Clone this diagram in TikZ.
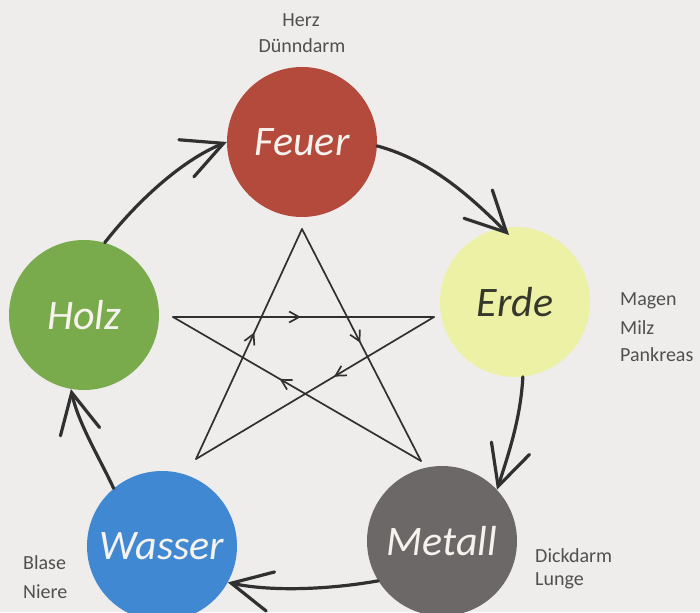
\documentclass[tikz,border=0pt]{standalone}
\usepackage{fontspec}
\setmainfont{Carlito}
\usetikzlibrary{arrows.meta,decorations.markings}
\definecolor{bg}{RGB}{238,237,236}
\definecolor{feuerc}{RGB}{180,74,60}
\definecolor{erdec}{RGB}{237,241,166}
\definecolor{holzc}{RGB}{121,170,76}
\definecolor{wasserc}{RGB}{64,137,210}
\definecolor{metallc}{RGB}{108,104,103}
\definecolor{ink}{RGB}{48,48,48}
\definecolor{lbl}{RGB}{80,80,80}
\definecolor{lighttext}{RGB}{246,242,238}
\definecolor{darktext}{RGB}{55,56,44}
\begin{document}
\begin{tikzpicture}[x=1pt,y=1pt,
  element/.style={circle,minimum size=150pt,inner sep=0pt,
    font=\fontsize{42}{44}\selectfont\itshape},
  organ/.style={font=\fontsize{20}{22}\selectfont,text=lbl,inner sep=0pt},
  outer/.style={draw=ink,line width=3.2pt,line cap=round,
    -{Straight Barb[length=40pt,width=40pt,line cap=round]}},
  starline/.style={draw=ink,line width=1.7pt,line cap=round},
  midarrow/.style={postaction={decorate},decoration={markings,
    mark=at position #1 with {\arrow{Straight Barb[length=10pt,width=11pt]}}}}
]
\fill[bg] (0,0) rectangle (700,612);
\useasboundingbox (0,0) rectangle (700,612);

% star (control cycle)
\coordinate (sT) at (302,383);
\coordinate (sL) at (173,295);
\coordinate (sR) at (434,295);
\coordinate (sBL) at (196,153);
\coordinate (sBR) at (421,151);
\draw[starline,midarrow=0.49] (sL) -- (sR);
\draw[starline,midarrow=0.49] (sT) -- (sBR);
\draw[starline,midarrow=0.42] (sR) -- (sBL);
\draw[starline,midarrow=0.57] (sBR) -- (sL);
\draw[starline,midarrow=0.55] (sBL) -- (sT);

% elements
\node[element,fill=feuerc,text=lighttext] (feuer) at (302,470) {Feuer};
\node[element,fill=erdec,text=darktext] (erde) at (515,310) {Erde};
\node[element,fill=holzc,text=lighttext] (holz) at (84,297) {Holz};
\node[element,fill=wasserc,text=lighttext] (wasser) at (162,66) {Wasser};
\node[element,fill=metallc,text=lighttext] (metall) at (442,71) {Metall};

% organs
\node[organ] (herz) at (301,592) {Herz};
\node[organ] (duenn) at (302,566) {Dünndarm};
\node[organ,anchor=west] (magen) at (620,311) {Magen};
\node[organ,anchor=west] (milz) at (620,284) {Milz};
\node[organ,anchor=west] (pankreas) at (620,257) {Pankreas};
\node[organ,anchor=west] (dick) at (535,56) {Dickdarm};
\node[organ,anchor=west] (lunge) at (535,31) {Lunge};
\node[organ,anchor=west] (blase) at (23,49) {Blase};
\node[organ,anchor=west] (niere) at (23,20) {Niere};

% generating cycle
\draw[outer] (holz.74) .. controls +(52:50) and +(202:50) .. (feuer.180);
\draw[outer,shorten >=-10pt] (feuer.-3) .. controls +(-15:55) and +(135:45) .. (erde.100);
\draw[outer] (erde.-84) .. controls +(-93:40) and +(72:40) .. (metall.43);
\draw[outer] (metall.212) .. controls +(190:50) and +(-12:45) .. (wasser.-29);
\draw[outer] (wasser.130) .. controls +(115:35) and +(-78:35) .. (holz.-100);
\end{tikzpicture}
\end{document}
